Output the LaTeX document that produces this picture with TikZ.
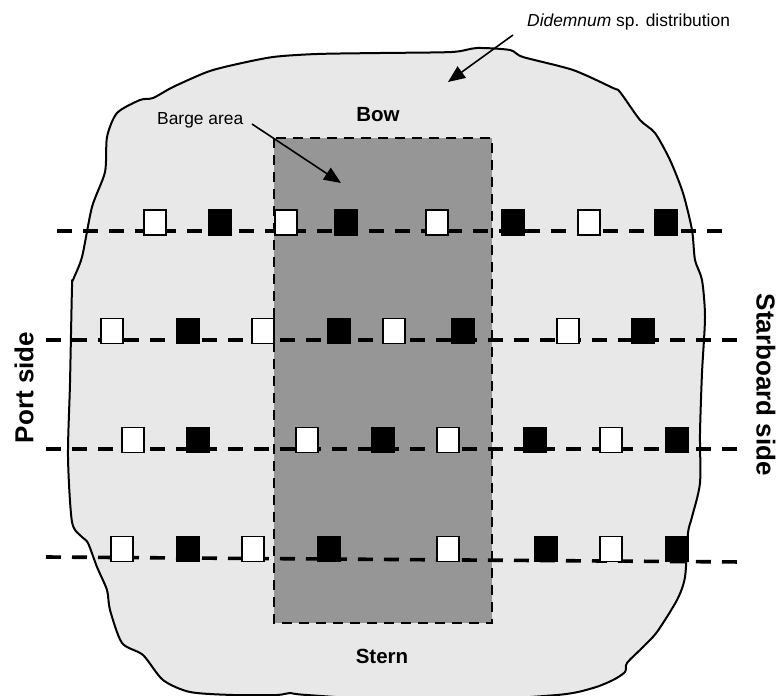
\documentclass[tikz,border=0pt]{standalone}
\usepackage{fontspec}
\setmainfont{Liberation Sans}
\usetikzlibrary{arrows.meta}
\definecolor{seabed}{HTML}{E8E8E8}
\definecolor{bargegray}{HTML}{969696}

\begin{document}
\begin{tikzpicture}[x=1pt, y=-1pt,
  blob/.style={fill=seabed, draw=black, line width=2pt, line join=round},
  barge/.style={fill=bargegray, draw=black, line width=2.6pt,
                dash pattern=on 10pt off 7pt},
  transect/.style={draw=black, line width=3.6pt, dash pattern=on 15pt off 11pt},
  sqopen/.style={draw=black, fill=white, line width=1.4pt, inner sep=0pt,
                 minimum width=22pt, minimum height=25pt},
  sqfull/.style={sqopen, fill=black},
  lbl/.style={font=\fontsize{17.4}{20}\selectfont, inner sep=0pt},
  endlbl/.style={font=\fontsize{20.5}{24}\selectfont\bfseries, inner sep=0pt},
  sidelbl/.style={font=\fontsize{26}{30}\selectfont\bfseries, inner sep=0pt},
  arrow/.style={-{Triangle[length=17pt, width=14pt]}, line width=1.6pt}
]
  \useasboundingbox (0,0) rectangle (777,696);

  % colonised patch around the barge
  \draw[blob] plot[smooth cycle, tension=0.45] coordinates {
    (105,172) (107,137) (117,113) (140,100) (153,98) (173,87) (207,72)
    (233,65) (273,57) (317,54) (380,53) (452,52) (477,48) (510,50)
    (523,57) (573,70) (613,88) (620,92) (640,120) (655,133) (670,160)
    (683,193) (692,230) (695,260) (702,280) (705,317) (702,373) (700,433)
    (700,483) (692,517) (688,533) (685,577) (677,600) (657,632) (643,647)
    (627,663) (625,672) (613,680) (593,688) (557,695) (430,702) (307,695)
    (290,693) (277,695) (233,695) (190,692) (163,680) (143,655) (122,643)
    (110,610) (107,590) (97,567) (88,543) (82,537) (72,522) (68,457)
    (70,383) (72,287) (73,280) (82,257) (92,207)};

  % barge footprint
  \draw[barge] (274,138) rectangle (492,623);

  % transect lines
  \coordinate (t1w) at (57,231);  \coordinate (t1e) at (730,231);
  \coordinate (t2w) at (46,340);  \coordinate (t2e) at (741,340);
  \coordinate (t3w) at (46,449);  \coordinate (t3e) at (741,449);
  \coordinate (t4w) at (46,557);  \coordinate (t4e) at (743,562);
  \draw[transect] (t1w) -- (t1e);
  \draw[transect] (t2w) -- (t2e);
  \draw[transect] (t3w) -- (t3e);
  \draw[transect] (t4w) -- (t4e);

  % quadrats, row 1
  \node[sqopen] (q11) at (155,222.5) {};
  \node[sqfull] (q12) at (220,222.5) {};
  \node[sqopen] (q13) at (286,222.5) {};
  \node[sqfull] (q14) at (346,222.5) {};
  \node[sqopen] (q15) at (437,222.5) {};
  \node[sqfull] (q16) at (513,222.5) {};
  \node[sqopen] (q17) at (589,222.5) {};
  \node[sqfull] (q18) at (666,222.5) {};
  % row 2
  \node[sqopen] (q21) at (112,331) {};
  \node[sqfull] (q22) at (188,331) {};
  \node[sqopen] (q23) at (263,331) {};
  \node[sqfull] (q24) at (339,331) {};
  \node[sqopen] (q25) at (394,331) {};
  \node[sqfull] (q26) at (463,331) {};
  \node[sqopen] (q27) at (568,331) {};
  \node[sqfull] (q28) at (643,331) {};
  % row 3
  \node[sqopen] (q31) at (133,440) {};
  \node[sqfull] (q32) at (198,440) {};
  \node[sqopen] (q33) at (307,440) {};
  \node[sqfull] (q34) at (383,440) {};
  \node[sqopen] (q35) at (448,440) {};
  \node[sqfull] (q36) at (535,440) {};
  \node[sqopen] (q37) at (611,440) {};
  \node[sqfull] (q38) at (677,440) {};
  % row 4
  \node[sqopen] (q41) at (122,549) {};
  \node[sqfull] (q42) at (188,549) {};
  \node[sqopen] (q43) at (253,549) {};
  \node[sqfull] (q44) at (329,549) {};
  \node[sqopen] (q45) at (448,549) {};
  \node[sqfull] (q46) at (546,549) {};
  \node[sqopen] (q47) at (611,549) {};
  \node[sqfull] (q48) at (677,549) {};

  % labels
  \node[lbl, anchor=base west] (spread) at (527,26) {\textit{Didemnum} sp. distribution};
  \node[lbl, anchor=base west] (bargelbl) at (157,124) {Barge area};
  \node[endlbl, anchor=base] (bow) at (378,121) {Bow};
  \node[endlbl, anchor=base] (stern) at (382,663) {Stern};
  \node[sidelbl, rotate=90] (port) at (24,387.5) {Port side};
  \node[sidelbl, rotate=-90] (starboard) at (766,385) {Starboard side};

  % pointers
  \coordinate (spreadfrom) at (513,35);
  \coordinate (spreadtip) at (448,82);
  \coordinate (bargefrom) at (252,124);
  \coordinate (bargetip) at (341,183);
  \draw[arrow] (spreadfrom) -- (spreadtip);
  \draw[arrow] (bargefrom) -- (bargetip);
\end{tikzpicture}
\end{document}
